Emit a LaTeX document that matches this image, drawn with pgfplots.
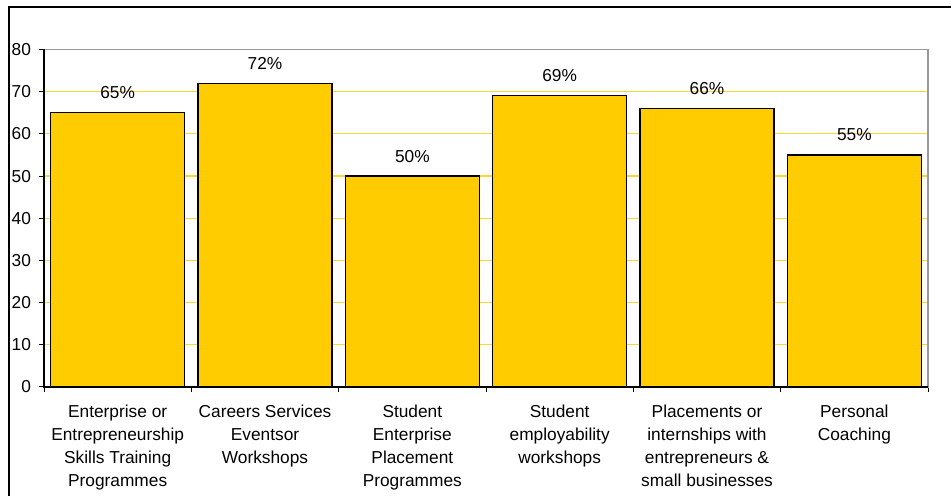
\documentclass[border=0pt]{standalone}
\usepackage{pgfplots}
\pgfplotsset{compat=1.18}
\usepackage{fontspec}
\setmainfont{Liberation Sans}
\definecolor{barfill}{HTML}{FFCC00}
\definecolor{gridy}{HTML}{FFD633}
\definecolor{plotframe}{HTML}{999999}
\newcommand{\chartfont}{\fontsize{8.65}{11.5}\selectfont}
\begin{document}
\begin{tikzpicture}
% page: 951x496 px at 0.5pt per px
\path[use as bounding box] (0,0) rectangle (475.5pt,248pt);
\draw[line width=0.65pt] (4.5pt,-1pt) -- (4.5pt,244.5pt) -- (477pt,244.5pt);
\begin{axis}[
    at={(22pt,54.5pt)}, anchor=south west,
    scale only axis,
    width=442pt, height=168.75pt,
    xmin=-0.5, xmax=5.5,
    ymin=0, ymax=80,
    ytick={0,10,...,80},
    xtick={-0.5,0.5,...,5.5},
    xticklabels={},
    extra x ticks={0,...,5},
    extra x tick labels={
        Enterprise or\\Entrepreneurship\\Skills Training\\Programmes,
        Careers Services\\Eventsor\\Workshops,
        Student\\Enterprise\\Placement\\Programmes,
        Student\\employability\\workshops,
        Placements or\\internships with\\entrepreneurs \&\\small businesses,
        Personal\\Coaching},
    extra x tick style={major tick length=0pt},
    major tick length=2.5pt,
    tick align=outside,
    xtick pos=bottom, ytick pos=left,
    every tick/.style={draw=black, line width=0.5pt},
    axis line style={plotframe, line width=0.6pt},
    tick label style={font=\chartfont, text=black},
    /pgf/number format/assume math mode=true,
    yticklabel style={xshift=-0.5pt},
    xticklabel style={align=center, yshift=-5.5pt},
    ybar,
    bar width=67pt,
    nodes near coords={\pgfmathprintnumber{\pgfplotspointmeta}\%},
    nodes near coords style={font=\chartfont, anchor=base, yshift=7pt, text=black},
    clip=false,
]
% horizontal gridlines, under the bars
\pgfplotsinvokeforeach{10,20,...,80}{
    \draw[gridy, line width=0.6pt] (axis cs:-0.5,#1) -- (axis cs:5.5,#1);
}
\addplot[fill=barfill, draw=black, line width=0.6pt] coordinates {
    (0,65) (1,72) (2,50) (3,69) (4,66) (5,55)
};
\draw[plotframe, line width=0.6pt] (rel axis cs:0,1) -- (rel axis cs:1,1) -- (rel axis cs:1,0);
\draw[black, line width=0.6pt] (rel axis cs:0,1) -- (rel axis cs:0,0) -- (rel axis cs:1,0);
\end{axis}
\end{tikzpicture}
\end{document}
